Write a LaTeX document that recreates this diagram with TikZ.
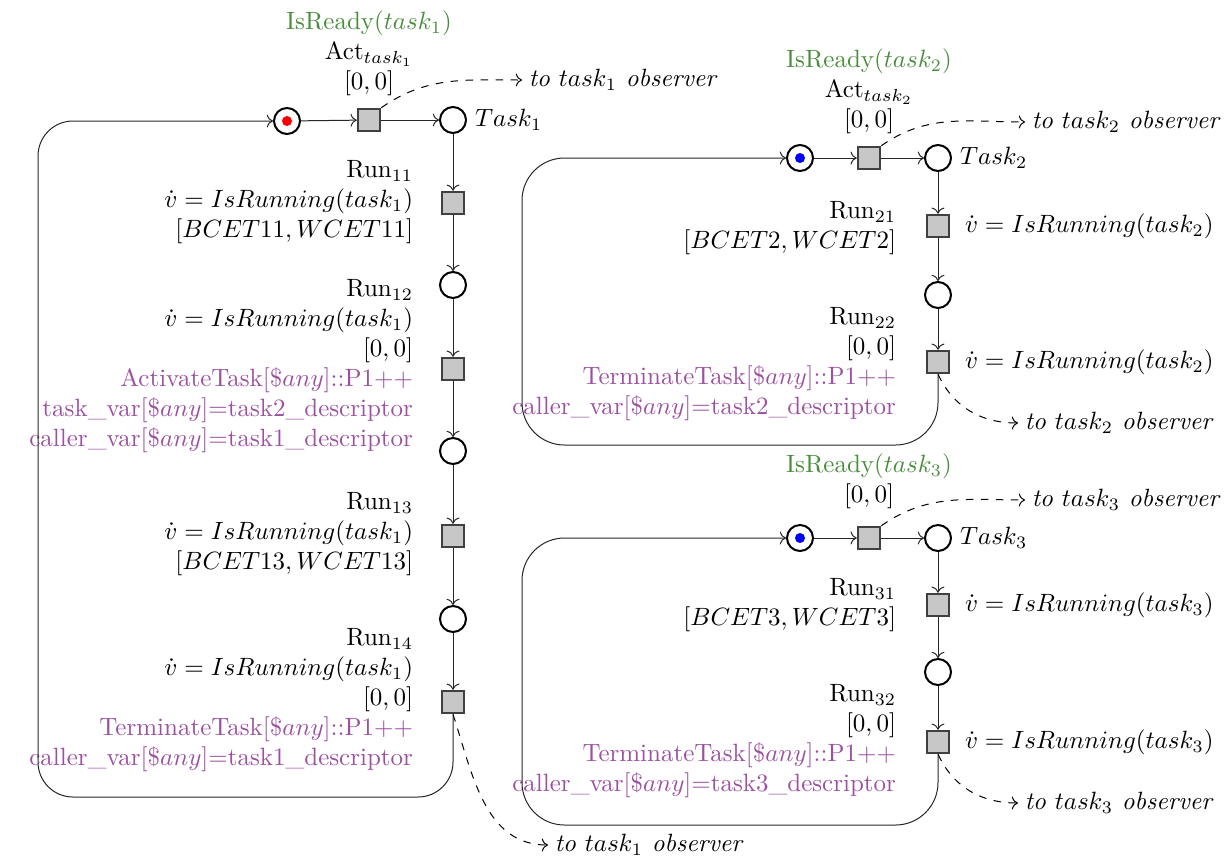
\documentclass[tikz,border=0pt]{standalone}
\usepackage{amsmath}
\usetikzlibrary{arrows.meta}
\definecolor{readygreen}{RGB}{72,140,60}
\definecolor{purp}{RGB}{155,80,160}
\definecolor{tokblue}{RGB}{0,0,255}
\tikzset{
 place/.style={circle, draw=black, line width=0.8pt, minimum size=10.4pt, inner sep=0pt},
 trans/.style={rectangle, draw=black!75, fill=black!22, line width=0.8pt, minimum size=9pt, inner sep=0pt},
 arc/.style={->, draw=black!85, line width=0.4pt},
 obs/.style={->, dashed, line width=0.4pt},
 lbl/.style={inner sep=1pt, font=\normalsize},
 obsl/.style={inner sep=2.5pt, font=\normalsize, anchor=west},
 token/.style={circle, inner sep=0pt, minimum size=4pt},
}
\newcommand{\rdy}[1]{\textcolor{readygreen}{IsReady($task_{#1}$)}}
\newcommand{\pu}[1]{\textcolor{purp}{#1}}
\begin{document}
\begin{tikzpicture}[x=0.4pt,y=-0.4pt]
\useasboundingbox (0,0) rectangle (1232,862);

% ---------------- Task 1 ----------------
\node[place] (p1) at (287,121) {};
\node[token, fill=red] (k1) at (p1) {};
\node[trans] (a1) at (369,120) {};
\node[place] (t1) at (453,120) {};
\node[trans] (r11) at (453,203) {};
\node[place] (q11) at (453,285) {};
\node[trans] (r12) at (453,369) {};
\node[place] (q12) at (453,451) {};
\node[trans] (r13) at (453,536) {};
\node[place] (q13) at (453,619) {};
\node[trans] (r14) at (453,702) {};

\node[lbl, anchor=west, xshift=2pt] (n1) at (t1.east) {$Task_1$};
\node[lbl, anchor=south, align=center] (la1) at (369,99) {\rdy{1}\\ Act$_{task_1}$\\ $[0,0]$};
\node[lbl, anchor=east, align=right] (l11) at (416,202) {Run$_{11}$\\ $\dot v = IsRunning(task_1)$\\ $[BCET11, WCET11]$};
\node[lbl, anchor=east, align=right] (l12) at (416,366) {Run$_{12}$\\ $\dot v = IsRunning(task_1)$\\ $[0,0]$\\ \pu{ActivateTask[\$$any$]::P1++}\\ \pu{task\_var[\$$any$]=task2\_descriptor}\\ \pu{caller\_var[\$$any$]=task1\_descriptor}};
\node[lbl, anchor=east, align=right] (l13) at (416,534) {Run$_{13}$\\ $\dot v = IsRunning(task_1)$\\ $[BCET13, WCET13]$};
\node[lbl, anchor=east, align=right] (l14) at (416,700) {Run$_{14}$\\ $\dot v = IsRunning(task_1)$\\ $[0,0]$\\ \pu{TerminateTask[\$$any$]::P1++}\\ \pu{caller\_var[\$$any$]=task1\_descriptor}};

\node[obsl] (o1a) at (522,80) {\textit{to $task_1$ observer}};
\node[obsl] (o1b) at (548,845) {\textit{to $task_1$ observer}};

\draw[arc] (p1) -- (a1);
\draw[arc] (a1) -- (t1);
\draw[arc] (t1) -- (r11);
\draw[arc] (r11) -- (q11);
\draw[arc] (q11) -- (r12);
\draw[arc] (r12) -- (q12);
\draw[arc] (q12) -- (r13);
\draw[arc] (r13) -- (q13);
\draw[arc] (q13) -- (r14);
\draw[arc, rounded corners=14pt] (r14.south) -- (453,797) -- (38,797) -- (38,121) -- (p1.west);
\draw[obs] (a1.north east) to[out=35,in=180] (o1a.west);
\draw[obs] (r14.south) to[out=-72,in=180] (o1b.west);

% ---------------- Task 2 ----------------
\node[place] (p2) at (800,158) {};
\node[token, fill=tokblue] (k2) at (p2) {};
\node[trans] (a2) at (869,158) {};
\node[place] (t2) at (938,158) {};
\node[trans] (r21) at (938,226) {};
\node[place] (q21) at (938,295) {};
\node[trans] (r22) at (938,362) {};

\node[lbl, anchor=west, xshift=2pt] (n2) at (t2.east) {$Task_2$};
\node[lbl, anchor=south, align=center] (la2) at (869,137) {\rdy{2}\\ Act$_{task_2}$\\ $[0,0]$};
\node[lbl, anchor=east, align=right] (l21) at (899,228) {Run$_{21}$\\ $[BCET2, WCET2]$};
\node[lbl, anchor=east, align=right] (l22) at (899,364) {Run$_{22}$\\ $[0,0]$\\ \pu{TerminateTask[\$$any$]::P1++}\\ \pu{caller\_var[\$$any$]=task2\_descriptor}};
\node[lbl, anchor=west] (v21) at (962,226) {$\dot v = IsRunning(task_2)$};
\node[lbl, anchor=west] (v22) at (962,362) {$\dot v = IsRunning(task_2)$};

\node[obsl] (o2a) at (1025,122) {\textit{to $task_2$ observer}};
\node[obsl] (o2b) at (1018,423) {\textit{to $task_2$ observer}};

\draw[arc] (p2) -- (a2);
\draw[arc] (a2) -- (t2);
\draw[arc] (t2) -- (r21);
\draw[arc] (r21) -- (q21);
\draw[arc] (q21) -- (r22);
\draw[arc, rounded corners=17pt] (r22.south) -- (938,445) -- (522,445) -- (522,158) -- (p2.west);
\draw[obs] (a2.north east) to[out=35,in=180] (o2a.west);
\draw[obs] (r22.south) to[out=-65,in=180] (o2b.west);

% ---------------- Task 3 ----------------
\node[place] (p3) at (800,538) {};
\node[token, fill=tokblue] (k3) at (p3) {};
\node[trans] (a3) at (869,538) {};
\node[place] (t3) at (938,538) {};
\node[trans] (r31) at (938,605) {};
\node[place] (q31) at (938,672) {};
\node[trans] (r32) at (938,742) {};

\node[lbl, anchor=west, xshift=2pt] (n3) at (t3.east) {$Task_3$};
\node[lbl, anchor=south, align=center] (la3) at (869,512) {\rdy{3}\\ $[0,0]$};
\node[lbl, anchor=east, align=right] (l31) at (899,605) {Run$_{31}$\\ $[BCET3, WCET3]$};
\node[lbl, anchor=east, align=right] (l32) at (899,741) {Run$_{32}$\\ $[0,0]$\\ \pu{TerminateTask[\$$any$]::P1++}\\ \pu{caller\_var[\$$any$]=task3\_descriptor}};
\node[lbl, anchor=west] (v31) at (962,605) {$\dot v = IsRunning(task_3)$};
\node[lbl, anchor=west] (v32) at (962,742) {$\dot v = IsRunning(task_3)$};

\node[obsl] (o3a) at (1025,500) {\textit{to $task_3$ observer}};
\node[obsl] (o3b) at (1018,803) {\textit{to $task_3$ observer}};

\draw[arc] (p3) -- (a3);
\draw[arc] (a3) -- (t3);
\draw[arc] (t3) -- (r31);
\draw[arc] (r31) -- (q31);
\draw[arc] (q31) -- (r32);
\draw[arc, rounded corners=17pt] (r32.south) -- (938,825) -- (522,825) -- (522,538) -- (p3.west);
\draw[obs] (a3.north east) to[out=35,in=180] (o3a.west);
\draw[obs] (r32.south) to[out=-65,in=180] (o3b.west);
\end{tikzpicture}
\end{document}
